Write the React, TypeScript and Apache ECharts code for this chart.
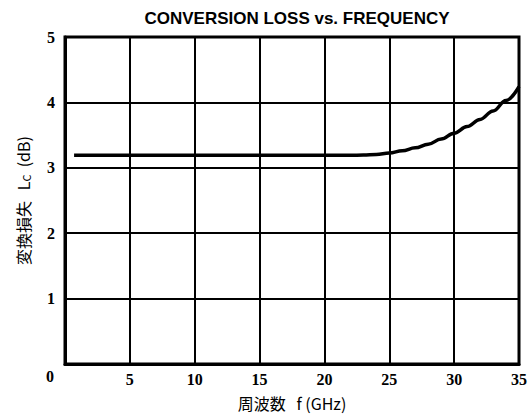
import React, { useEffect, useRef } from "react";
import * as echarts from "echarts";

const freqGHz = [0.7, 5, 10, 15, 20, 22, 23, 24, 25, 26, 27, 28, 29, 30, 31, 32, 33, 34, 35];
const lossDb = [3.19, 3.19, 3.19, 3.19, 3.19, 3.19, 3.195, 3.205, 3.225, 3.26, 3.305, 3.36, 3.44, 3.53, 3.63, 3.74, 3.87, 4.03, 4.24];
const xTicks = [0, 5, 10, 15, 20, 25, 30, 35];
const yTicks = [0, 1, 2, 3, 4, 5];

export default function App() {
  const ref = useRef<HTMLDivElement>(null);
  useEffect(() => {
    if (!ref.current) return;
    const chart = echarts.init(ref.current, null, { renderer: "svg" });
    const tickFont = { fontFamily: "Liberation Serif", fontWeight: "bold" as const, fontSize: 16, color: "#000" };
    chart.setOption({
      animation: false,
      backgroundColor: "#fff",
      title: {
        text: "CONVERSION LOSS vs. FREQUENCY",
        left: 292,
        top: 5,
        textAlign: "center",
        textStyle: { fontFamily: "Liberation Sans", fontWeight: "bold", fontSize: 17, color: "#000" },
      },
      grid: { left: 65, right: 12, top: 37, bottom: 55, containLabel: false, outerBoundsMode: "none" },
      xAxis: {
        type: "value",
        min: 0,
        max: 35,
        interval: 5,
        name: "周波数   f (GHz)",
        nameLocation: "middle",
        nameGap: 30,
        nameTextStyle: { fontFamily: "Noto Sans CJK JP", fontSize: 16, color: "#000", lineHeight: 18 },
        axisLine: { show: true, lineStyle: { color: "#000", width: 3 } },
        axisTick: { show: false },
        splitLine: { show: true, lineStyle: { color: "#000", width: 2 } },
        axisLabel: {
          ...tickFont,
          margin: 7,
          formatter: (v: number) => (v === 0 ? "" : String(xTicks.includes(v) ? v : "")),
        },
      },
      yAxis: {
        type: "value",
        min: 0,
        max: 5,
        interval: 1,
        name: "変換損失   L{s|C}  (dB)",
        nameLocation: "middle",
        nameGap: 34,
        nameRotate: 90,
        nameTextStyle: {
          fontFamily: "Noto Sans CJK JP",
          fontSize: 16,
          color: "#000",
          rich: { s: { fontFamily: "Noto Sans CJK JP", fontSize: 11, color: "#000", verticalAlign: "bottom" } },
        },
        axisLine: { show: true, lineStyle: { color: "#000", width: 3 } },
        axisTick: { show: false },
        splitLine: { show: true, lineStyle: { color: "#000", width: 2 } },
        axisLabel: {
          ...tickFont,
          margin: 10,
          formatter: (v: number) => (v === 0 ? "" : String(yTicks.includes(v) ? v : "")),
        },
      },
      graphic: [
        {
          type: "text",
          left: 46,
          top: 368,
          style: { text: "0", fontFamily: "Liberation Serif", fontWeight: "bold", fontSize: 16, fill: "#000" },
        },
        {
          type: "rect",
          shape: { x: 65, y: 37, width: 454, height: 327 },
          style: { fill: "none", stroke: "#000", lineWidth: 3 },
          z: 10,
        },
      ],
      series: [
        {
          type: "line",
          data: freqGHz.map((f, i) => [f, lossDb[i]]),
          smooth: 0.4,
          smoothMonotone: "x",
          showSymbol: false,
          lineStyle: { color: "#000", width: 3.5 },
          z: 5,
        },
      ],
    });
    return () => chart.dispose();
  }, []);
  return <div ref={ref} style={{ position: "fixed", left: 0, top: 0, width: 531, height: 419 }} />;
}
